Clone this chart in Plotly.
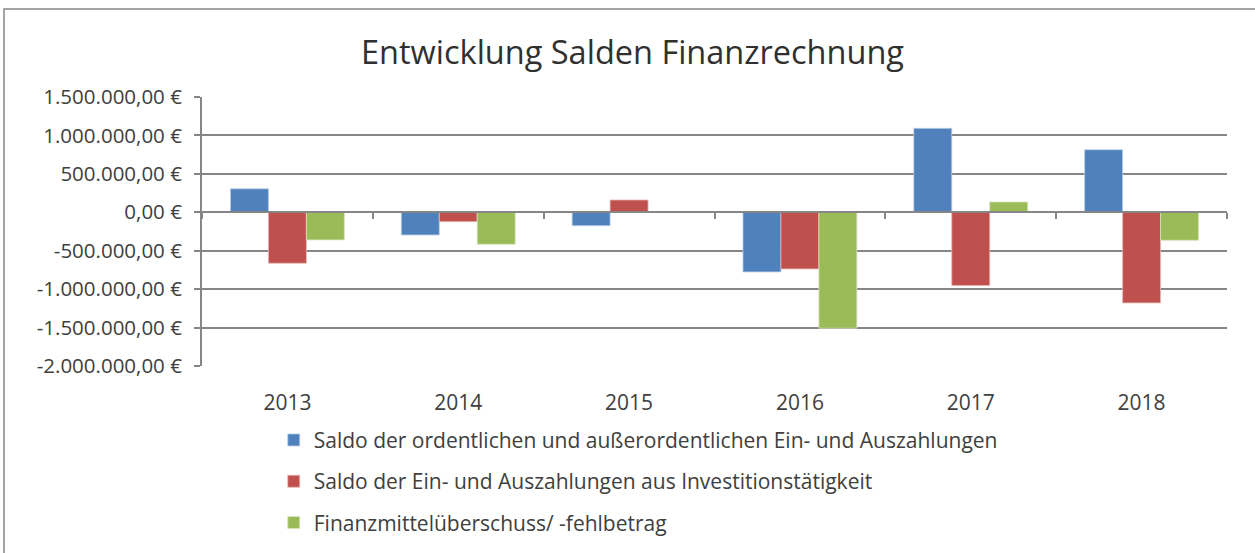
import plotly.graph_objects as go

# Jahre (Kategorien)
years = ["2013", "2014", "2015", "2016", "2017", "2018"]

# Salden je Jahr in Euro
saldo_ordentlich = [305000, -295000, -174000, -776000, 1092000, 814000]
saldo_investition = [-663000, -122000, 160000, -737000, -954000, -1179000]
finanzmittel = [-360000, -416000, 0, -1508000, 134000, -364000]

series_names = [
    "Saldo der ordentlichen und außerordentlichen Ein- und Auszahlungen",
    "Saldo der Ein- und Auszahlungen aus Investitionstätigkeit",
    "Finanzmittelüberschuss/ -fehlbetrag",
]
colors = ["#4F81BD", "#C0504D", "#9BBB59"]
edge_colors = ["#B9CDE5", "#E6B9B8", "#D7E4BD"]

# y-Achse
y_ticks = [1500000, 1000000, 500000, 0, -500000, -1000000, -1500000, -2000000]


def euro(v):
    s = f"{abs(v):,.2f}".replace(",", "X").replace(".", ",").replace("X", ".")
    return ("-" if v < 0 else "") + s + " €"


y_ticktext = [euro(v) for v in y_ticks]

FONT = "Open Sans"
GREY = "#868686"
TEXT = "#404040"

fig = go.Figure()
for i, (name, vals) in enumerate(zip(series_names,
                                     [saldo_ordentlich, saldo_investition, finanzmittel])):
    fig.add_trace(go.Bar(
        x=years, y=vals, name=name,
        marker=dict(color=colors[i], line=dict(color=edge_colors[i], width=0.8)),
        legendgroup=f"g{i}",
    ))

# unsichtbare Spur für die Nulllinien-Achse mit Teilstrichen
fig.add_trace(go.Scatter(x=years, y=[0] * len(years), xaxis="x2", yaxis="y",
                         mode="lines", line=dict(width=0), showlegend=False,
                         hoverinfo="skip"))

zero_pos = (0 - y_ticks[-1]) / (y_ticks[0] - y_ticks[-1])

fig.update_layout(
    width=1255, height=553,
    autosize=False,
    paper_bgcolor="white", plot_bgcolor="white",
    margin=dict(l=202, r=28, t=97, b=187, autoexpand=False),
    font=dict(family=FONT, size=21, color=TEXT),
    title=dict(text="Entwicklung Salden Finanzrechnung",
               font=dict(family=FONT, size=32.5, color="#303030"),
               x=0.504, xanchor="center", y=0.905, yanchor="middle"),
    barmode="group", bargap=1 / 3, bargroupgap=0,
    showlegend=True,
    legend=dict(x=0.07, xanchor="left", y=-0.2, yanchor="top",
                orientation="v", tracegroupgap=11,
                font=dict(family=FONT, size=21, color=TEXT),
                itemwidth=30, bgcolor="rgba(0,0,0,0)"),
    xaxis=dict(type="category", showline=False, showgrid=False,
               ticks="outside", ticklen=18, tickcolor="rgba(0,0,0,0)",
               tickfont=dict(size=21, color=TEXT), range=[-0.5, 5.5]),
    xaxis2=dict(type="category", overlaying="x", anchor="free", position=zero_pos,
                matches="x", showline=True, linecolor=GREY, linewidth=2,
                ticks="outside", tickson="boundaries", ticklen=6, tickwidth=2,
                tickcolor=GREY, showticklabels=False, showgrid=False),
    yaxis=dict(range=[y_ticks[-1], y_ticks[0]], tickvals=y_ticks, ticktext=y_ticktext,
               showgrid=True, gridcolor=GREY, gridwidth=2,
               zeroline=False, showline=True, linecolor=GREY, linewidth=2,
               ticks="outside", ticklen=6, tickwidth=2, tickcolor=GREY,
               ticklabelstandoff=8,
               tickfont=dict(size=20.5, color=TEXT)),
    shapes=[dict(type="rect", xref="paper", yref="paper",
                 x0=(4 - 202) / 1025, x1=(1262 - 202) / 1025,
                 y0=(366 - 600) / 269, y1=(366 - 9) / 269,
                 line=dict(color=GREY, width=1.5), fillcolor="rgba(0,0,0,0)",
                 layer="below")],
)

fig.write_html("out.html", config={"displayModeBar": False},
               post_script="document.body.style.margin='0';")
